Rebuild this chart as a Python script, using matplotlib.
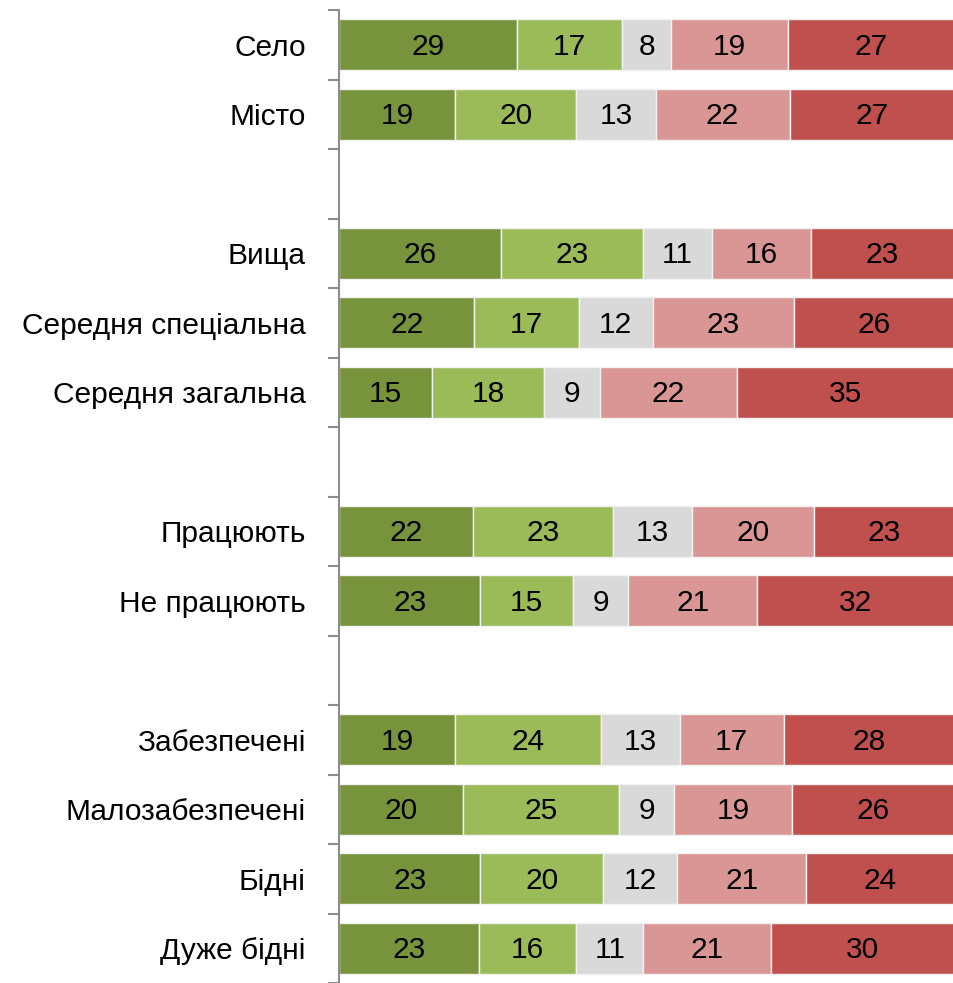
import matplotlib
matplotlib.use("Agg")
import matplotlib.pyplot as plt
import numpy as np
from matplotlib import font_manager

categories = ["Село", "Місто", "", "Вища", "Середня спеціальна", "Середня загальна", "",
              "Працюють", "Не працюють", "", "Забезпечені", "Малозабезпечені", "Бідні", "Дуже бідні"]
s1 = [29, 19, None, 26, 22, 15, None, 22, 23, None, 19, 20, 23, 23]
s2 = [17, 20, None, 23, 17, 18, None, 23, 15, None, 24, 25, 20, 16]
s3 = [8, 13, None, 11, 12, 9, None, 13, 9, None, 13, 9, 12, 11]
s4 = [19, 22, None, 16, 23, 22, None, 20, 21, None, 17, 19, 21, 21]
s5 = [27, 27, None, 23, 26, 35, None, 23, 32, None, 28, 26, 24, 30]
colors = ["#77933C", "#9BBB59", "#D9D9D9", "#D99694", "#C0504D"]

names = {f.name for f in font_manager.fontManager.ttflist}
fam = "Liberation Sans Narrow" if "Liberation Sans Narrow" in names else "Liberation Sans"
plt.rcParams['font.family'] = [fam, 'DejaVu Sans']
fs = 24 if fam == "Liberation Sans Narrow" else 21.5

fig = plt.figure(figsize=(9.54, 9.83), dpi=100)
ax = fig.add_axes([339/954, 0, 1 - 339/954, 1 - 10/983])

series = [s1, s2, s3, s4, s5]
for i in range(len(categories)):
    vals = [s[i] for s in series]
    if vals[0] is None:
        continue
    tot = sum(vals)
    left = 0
    for v, c in zip(vals, colors):
        w = v / tot * 100
        ax.barh(i, w, left=left, height=0.73, color=c, edgecolor="#F2F2F2", linewidth=1)
        ax.text(left + w / 2, i + 0.03, str(v), ha="center", va="center", fontsize=fs, color="black")
        left += w

ax.set_xlim(0, 100)
ax.set_ylim(13.5 - 7/70, -0.5)
ax.set_yticks(range(len(categories)))
ax.set_yticklabels(categories, fontsize=fs)
ax.tick_params(axis="y", which="major", length=0, pad=24)
ax.set_yticks(np.arange(-0.5, 13.6, 1), minor=True)
ax.tick_params(axis="y", which="minor", length=8, width=1.5, color="#8C8C8C")
ax.set_xticks([])
for s in ["top", "right", "bottom"]:
    ax.spines[s].set_visible(False)
ax.spines["left"].set_color("#8C8C8C")
ax.spines["left"].set_linewidth(1.5)

fig.savefig("out.png", dpi=100)
